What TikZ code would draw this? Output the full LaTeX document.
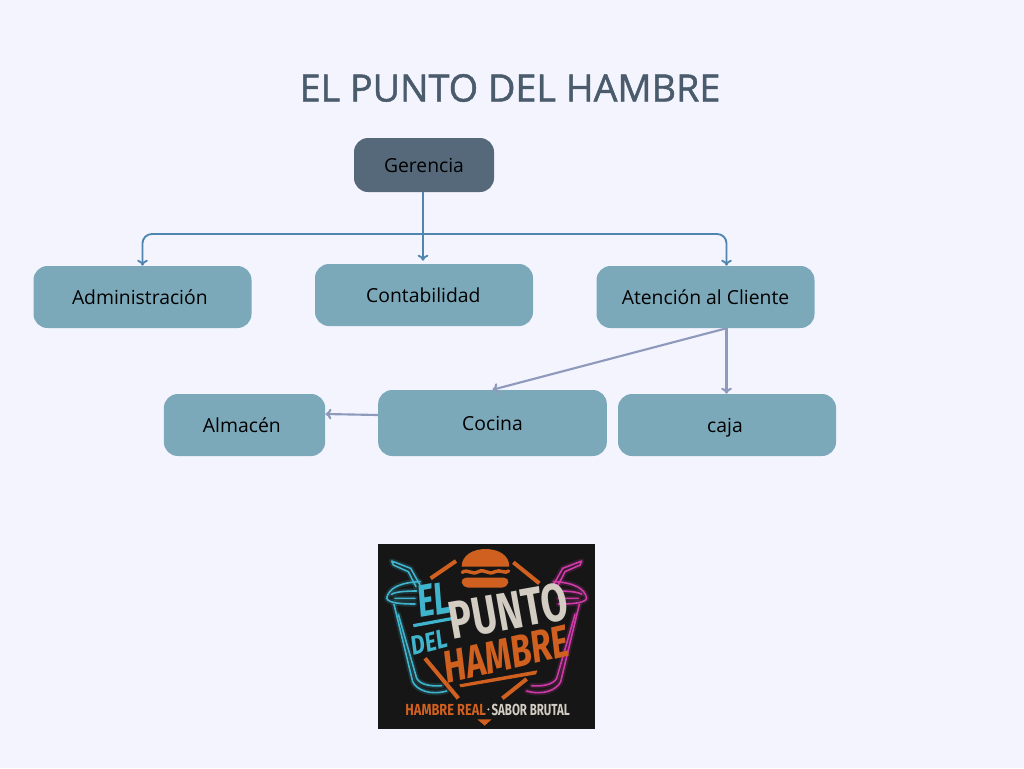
\documentclass[tikz,border=0pt]{standalone}
\usepackage{fontspec}
\setmainfont{Open Sans}
\newfontfamily\titlefont[FakeBold=1.3]{Open Sans}
\newfontfamily\logofont{Fira Sans}
\usetikzlibrary{arrows.meta,calc}
\definecolor{pagebg}{HTML}{F4F4FF}
\definecolor{titlecol}{HTML}{4A5B6C}
\definecolor{topfill}{HTML}{56697A}
\definecolor{boxfill}{HTML}{7CA9BA}
\definecolor{linkblue}{HTML}{4F86AE}
\definecolor{linkgray}{HTML}{8E9ABB}
\definecolor{neoncyan}{HTML}{3FB4CC}
\definecolor{neonpink}{HTML}{D03AA8}
\definecolor{logoorange}{HTML}{D0601F}
\definecolor{logopale}{HTML}{D2CCC2}
\definecolor{logoblack}{HTML}{161616}
\newcommand{\narrowtxt}[2]{\scalebox{#1}[1]{#2}}
\tikzset{
box/.style={fill=boxfill,rounded corners=10.5pt,inner sep=0pt,text=black,text height=11pt,text depth=0.5pt,font=\fontsize{14.5}{16}\selectfont},
bluelink/.style={draw=linkblue,line width=1.4pt,-{To[length=4.5pt,width=8pt]},rounded corners=7pt},
graylink/.style={draw=linkgray,line width=1.6pt,-{To[length=4.5pt,width=8pt]}},
neon/.style={line cap=round,line join=round},
swash/.style={draw=logoorange,line width=3pt},
logotext/.style={inner sep=0pt,font=\logofont\bfseries}
}
\begin{document}
\begin{tikzpicture}[x=0.75pt,y=-0.75pt]
\useasboundingbox[fill=pagebg] (0,0) rectangle (1024,768);

\node[text=titlecol,font=\titlefont\fontsize{28.3}{30}\selectfont] (title) at (510,88) {EL PUNTO DEL HAMBRE};

\node[box,fill=topfill,minimum width=105pt,minimum height=40.5pt] (ger) at (424,165) {Gerencia};

\node[box,minimum width=163.5pt,minimum height=46.5pt] (adm) at (142.5,297) {Administración\hspace*{4pt}};
\node[box,minimum width=163.5pt,minimum height=46.5pt] (con) at (424,295) {Contabilidad\hspace*{1pt}};
\node[box,minimum width=163.5pt,minimum height=46.5pt] (ate) at (705.5,297) {Atención al Cliente};

\node[box,minimum width=121pt,minimum height=46.5pt] (alm) at (244.5,425) {Almacén\hspace*{4pt}};
\node[box,minimum width=171.5pt,minimum height=49.5pt] (coc) at (492.5,423) {Cocina};
\node[box,minimum width=163.5pt,minimum height=46.5pt] (caj) at (727,425) {caja\hspace*{3pt}};

\coordinate (gerout) at ($(ger.south)+(-1,0)$);
\coordinate (hub) at (gerout|-0,234);
\coordinate (conin) at ($(con.north)+(-1,-3)$);
\coordinate (atein) at ($(ate.north)+(21,0)$);
\coordinate (ateout) at ($(ate.south)+(21,0)$);
\coordinate (cocout) at (coc.west|-0,415);
\coordinate (almin) at (alm.east|-0,414);

\draw[bluelink] (gerout) -- (conin);
\draw[bluelink] (hub) -| (adm.north);
\draw[bluelink] (hub) -| (atein);
\draw[graylink] (ateout) -- (coc.north);
\draw[graylink] (ateout) -- (caj.north-|ateout);
\draw[graylink] (cocout) -- (almin);

% logo, drawn in units of one third of a pixel
\begin{scope}[shift={(370,535)},x=0.25pt,y=-0.25pt]
\fill[logoblack] (24,27) rectangle (675,582);

\foreach \sgn/\neoncol in {1/neoncyan,-1/neonpink}{
\begin{scope}[shift={(350,0)},xscale=\sgn]
\foreach \lw/\op in {4pt/0.18,1.2pt/1}{
\draw[\neoncol,neon,line width=\lw,opacity=\op] (-285,78) -- (-280,90) -- (-235,110) -- (-212,155) (-285,78) -- (-228,100) -- (-200,150);
\draw[\neoncol,neon,line width=\lw,opacity=\op] (-200,140) .. controls (-260,142) and (-295,160) .. (-300,190) .. controls (-295,205) and (-250,207) .. (-215,207);
\draw[\neoncol,neon,line width=\lw,opacity=\op] (-285,178) .. controls (-275,170) and (-240,168) .. (-210,168) (-275,190) -- (-215,190);
\draw[\neoncol,neon,line width=\lw,opacity=\op] (-278,208) -- (-222,440) .. controls (-210,465) and (-170,482) .. (-120,468);
\draw[\neoncol,neon,line width=\lw,opacity=\op] (-265,238) -- (-210,430) .. controls (-200,448) and (-170,455) .. (-135,452);
}
\end{scope}
}

% burger
\fill[logoorange] (275,95) .. controls (275,60) and (310,42) .. (346,42) .. controls (385,42) and (418,60) .. (418,95) -- cycle;
\draw[logoorange,line width=2.6pt,line cap=round] (277,112) .. controls (295,100) and (305,122) .. (325,110) .. controls (345,100) and (355,122) .. (375,110) .. controls (390,102) and (405,118) .. (416,108);
\fill[logoorange,rounded corners=4pt] (272,128) -- (418,128) -- (412,158) -- (278,158) -- cycle;

\draw[swash] (182,130) -- (258,78);
\draw[swash] (430,82) -- (508,145);
\draw[swash] (165,370) -- (265,490);
\draw[swash] (470,432) -- (397,490);
\fill[logoorange] (268,448) -- (502,406) -- (498,418) -- (272,457) -- cycle;
\draw[neoncyan,line width=2.4pt] (130,272) -- (250,250);

\node[logotext,text=neoncyan,rotate=10] (logoel) at (192,194) {\fontsize{34}{34}\selectfont\itshape\narrowtxt{0.7}{EL}};
\node[logotext,text=neoncyan,rotate=14] (logodel) at (178,322) {\fontsize{20}{20}\selectfont\itshape\narrowtxt{0.82}{DEL}};
\node[logotext,text=logopale,rotate=10] (logopunto) at (415,228) {\fontsize{40}{40}\selectfont\narrowtxt{0.72}{PUNTO}};
\node[logotext,text=logoorange,rotate=13] (logohambre) at (408,358) {\fontsize{34}{34}\selectfont\itshape\narrowtxt{0.75}{HAMBRE}};
\node[logotext,text=logoorange] (logoreal) at (227,525) {\fontsize{12}{12}\selectfont\narrowtxt{0.8}{HAMBRE REAL}};
\node[logotext,text=logopale] (logosabor) at (482,526) {\fontsize{12}{12}\selectfont\narrowtxt{0.72}{SABOR BRUTAL}};
\fill[logopale] (355,523) circle (3.5);
\fill[logoorange] (322,553) -- (365,553) -- (344,572) -- cycle;
\end{scope}
\end{tikzpicture}
\end{document}
